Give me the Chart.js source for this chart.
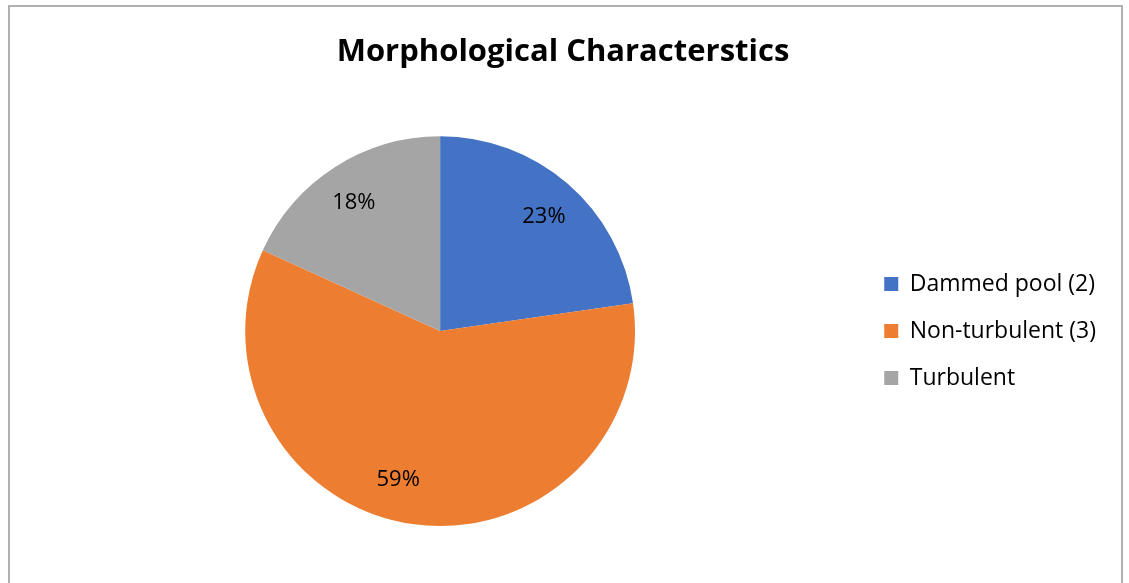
<!DOCTYPE html>
<html>
<head>
<meta charset="utf-8">
<script src="https://cdn.jsdelivr.net/npm/chart.js@4.4.1/dist/chart.umd.min.js"></script>
<style>
  html, body { margin: 0; padding: 0; background: #ffffff; }
  #wrap { position: relative; width: 1129px; height: 583px; overflow: hidden; background: #fff; }
  #frame { position: absolute; left: 8px; top: 5px; width: 1115px; height: 640px; border: 2px solid #b0b0b0; box-sizing: border-box; }
  canvas { position: absolute; left: 0; top: 0; }
</style>
</head>
<body>
<div id="wrap">
  <div id="frame"></div>
  <canvas id="c" width="1129" height="583"></canvas>
</div>
<script>
const categories = ["Dammed pool (2)", "Non-turbulent (3)", "Turbulent"];
const values = [5, 13, 4];
const colors = ["#4472C4", "#ED7D31", "#A5A5A5"];
const chartTitle = "Morphological Characterstics";

const FONT = "'Open Sans', 'DejaVu Sans', sans-serif";

const pctLabels = {
  id: "pctLabels",
  afterDatasetsDraw(chart, args, opts) {
    const ctx = chart.ctx;
    const meta = chart.getDatasetMeta(0);
    const data = chart.data.datasets[0].data;
    const total = data.reduce((a, b) => a + b, 0);
    const nudge = opts.nudge || [];
    ctx.save();
    ctx.font = "22px " + FONT;
    ctx.fillStyle = "#000";
    ctx.textAlign = "center";
    ctx.textBaseline = "middle";
    meta.data.forEach((arc, i) => {
      const p = arc.getProps(["x", "y", "startAngle", "endAngle", "outerRadius"], true);
      const mid = (p.startAngle + p.endAngle) / 2;
      const r = p.outerRadius * 0.79;
      const n = nudge[i] || [0, 0];
      const txt = Math.round(data[i] / total * 100) + "%";
      ctx.fillText(txt, p.x + Math.cos(mid) * r + n[0], p.y + Math.sin(mid) * r + n[1]);
    });
    ctx.restore();
  }
};

new Chart(document.getElementById("c"), {
  type: "pie",
  data: {
    labels: categories,
    datasets: [{ data: values, backgroundColor: colors, borderWidth: 0 }]
  },
  options: {
    responsive: false,
    animation: false,
    layout: { padding: { left: 20, right: 23, top: 0, bottom: 57 } },
    plugins: {
      title: {
        display: true,
        text: chartTitle,
        color: "#000",
        font: { family: FONT, size: 31, weight: "bold" },
        padding: { top: 34, bottom: 65 }
      },
      legend: {
        display: true,
        position: "right",
        fullSize: false,
        labels: {
          color: "#000",
          font: { family: FONT, size: 23 },
          boxWidth: 14,
          boxHeight: 14,
          padding: 24
        }
      },
      pctLabels: { nudge: [[3, 2], [-20, -4], [-3, 1]] },
      tooltip: { enabled: false }
    }
  },
  plugins: [pctLabels]
});
</script>
</body>
</html>
